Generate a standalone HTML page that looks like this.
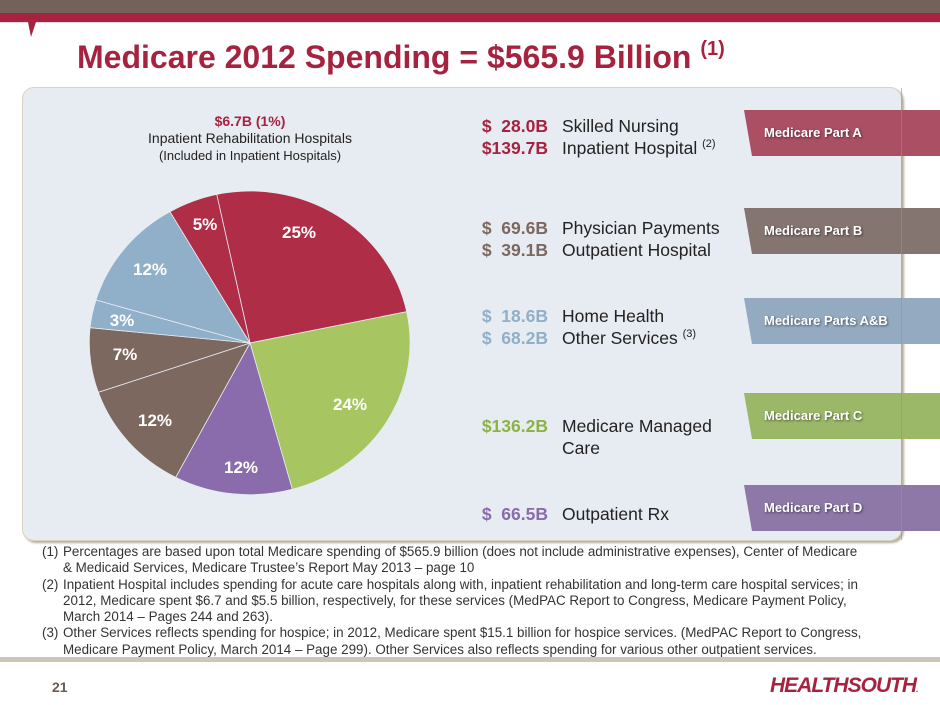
<!DOCTYPE html>
<html><head><meta charset="utf-8"><style>
body{margin:0;width:940px;height:705px;position:relative;overflow:hidden;background:#fff;font-family:"Liberation Sans",sans-serif}
.a{position:absolute;white-space:nowrap}
.tab{position:absolute;left:744px;width:196px;height:46px;clip-path:polygon(0 0,100% 0,100% 100%,8px 100%);color:#fff;font-weight:bold;font-size:13px;line-height:46px;padding-left:20px;box-sizing:border-box;text-shadow:1px 1px 2px rgba(0,0,0,.5)}
.amt{position:absolute;left:476px;width:72px;text-align:right;font-weight:bold;font-size:17.5px;white-space:pre}
.lbl{position:absolute;left:562px;font-size:17.5px;color:#222;white-space:nowrap}
.fn{position:absolute;left:42px;font-size:13.4px;color:#333;line-height:16.3px;width:880px}
.fn div{position:relative;padding-left:21px}
.fn span{position:absolute;left:0}
</style></head><body>
<div class="a" style="left:0;top:0;width:940px;height:13px;background:#736259"></div>
<div class="a" style="left:0;top:13px;width:940px;height:9px;background:#a6233f"></div>
<div class="a" style="left:0;top:22px;width:940px;height:1px;background:#e6d7dc"></div>
<svg class="a" style="left:28px;top:22px" width="10" height="16"><polygon points="0,0 8,0 3,15" fill="#a6233f"/></svg>
<div class="a" style="left:77px;top:38px;font-size:32px;font-weight:bold;color:#a6233f;letter-spacing:0px">Medicare 2012 Spending = $565.9 Billion <sup style="font-size:20px;vertical-align:13px">(1)</sup></div>
<div class="a" style="left:22px;top:87px;width:878px;height:452px;background:#e7ecf3;border:1px solid #d9d3c0;border-radius:12px;box-shadow:2px 2px 2px #b5ae98"></div>
<div class="a" style="left:40px;top:113px;width:420px;text-align:center;font-size:14px;line-height:17px;color:#222"><b style="color:#a6233f">$6.7B (1%)</b><br>Inpatient Rehabilitation Hospitals<br><span style="font-size:13px">(Included in Inpatient Hospitals)</span></div>
<svg class="a" style="left:0;top:0" width="470" height="540">
<g stroke="#e7ecf3" stroke-width="0.8">
<path d="M250,343 L216.7,194.3 A160,152 0 0 1 406.7,311.7 Z" fill="#b02d48"/>
<path d="M250,343 L406.7,311.7 A160,152 0 0 1 292.3,489.3 Z" fill="#a7c661"/>
<path d="M250,343 L292.3,489.3 A160,152 0 0 1 175.7,477.3 Z" fill="#8a6bab"/>
<path d="M250,343 L175.7,477.3 A160,152 0 0 1 98.3,392.3 Z" fill="#7d6860"/>
<path d="M250,343 L98.3,392.3 A160,152 0 0 1 90,327.7 Z" fill="#7d6860"/>
<path d="M250,343 L90,327.7 A160,152 0 0 1 96,300 Z" fill="#90afc8"/>
<path d="M250,343 L96,300 A160,152 0 0 1 170,211.7 Z" fill="#90afc8"/>
<path d="M250,343 L170,211.7 A160,152 0 0 1 216.7,194.3 Z" fill="#b02d48"/>
</g>
<g fill="#fff" font-weight="bold" font-size="17" text-anchor="middle">
<text x="299" y="238">25%</text><text x="205" y="230">5%</text>
<text x="150" y="275">12%</text><text x="122" y="326">3%</text>
<text x="125" y="360">7%</text><text x="155" y="426">12%</text>
<text x="241" y="473">12%</text><text x="350" y="410">24%</text>
</g></svg>
<div class="amt" style="top:116px;color:#a6233f">$  28.0B</div><div class="lbl" style="top:116px">Skilled Nursing</div>
<div class="amt" style="top:138px;color:#a6233f">$139.7B</div><div class="lbl" style="top:138px">Inpatient Hospital <sup style="font-size:11px">(2)</sup></div>
<div class="amt" style="top:218px;color:#7d6860">$  69.6B</div><div class="lbl" style="top:218px">Physician Payments</div>
<div class="amt" style="top:240px;color:#7d6860">$  39.1B</div><div class="lbl" style="top:240px">Outpatient Hospital</div>
<div class="amt" style="top:306px;color:#90afc8">$  18.6B</div><div class="lbl" style="top:306px">Home Health</div>
<div class="amt" style="top:328px;color:#90afc8">$  68.2B</div><div class="lbl" style="top:328px">Other Services <sup style="font-size:11px">(3)</sup></div>
<div class="amt" style="top:416px;color:#8cb343">$136.2B</div><div class="lbl" style="top:416px">Medicare Managed</div>
<div class="lbl" style="top:438px">Care</div>
<div class="amt" style="top:504px;color:#8a6bab">$  66.5B</div><div class="lbl" style="top:504px">Outpatient Rx</div>
<div class="tab" style="top:110px;background:#aa4f64">Medicare Part A</div>
<div class="tab" style="top:208px;background:#857570">Medicare Part B</div>
<div class="tab" style="top:298px;background:#93aac0">Medicare Parts A&amp;B</div>
<div class="tab" style="top:393px;background:#9ab868">Medicare Part C</div>
<div class="tab" style="top:485px;background:#8d78a8">Medicare Part D</div>
<div class="a" style="left:901px;top:88px;width:1px;height:452px;background:#9a9284;opacity:.6"></div>
<div class="a" style="left:0;top:657px;width:940px;height:5px;background:#cbc6b6"></div>
<div class="fn" style="top:544px">
<div><span>(1)</span>Percentages are based upon total Medicare spending of $565.9 billion (does not include administrative expenses), Center of Medicare<br>&amp; Medicaid Services, Medicare Trustee’s Report May 2013 – page 10</div>
<div><span>(2)</span>Inpatient Hospital includes spending for acute care hospitals along with, inpatient rehabilitation and long-term care hospital services; in<br>2012, Medicare spent $6.7 and $5.5 billion, respectively, for these services (MedPAC Report to Congress, Medicare Payment Policy,<br>March 2014 – Pages 244 and 263).</div>
<div><span>(3)</span>Other Services reflects spending for hospice; in 2012, Medicare spent $15.1 billion for hospice services. (MedPAC Report to Congress,<br>Medicare Payment Policy, March 2014 – Page 299). Other Services also reflects spending for various other outpatient services.</div>
</div>
<div class="a" style="left:52px;top:679px;font-size:14px;font-weight:bold;color:#6b5a4e">21</div>
<div class="a" style="left:770px;top:674px;font-size:21px;font-weight:900;font-style:italic;color:#a6233f;letter-spacing:-1px">HEALTHSOUTH<span style="font-size:8px">.</span></div>
</body></html>
